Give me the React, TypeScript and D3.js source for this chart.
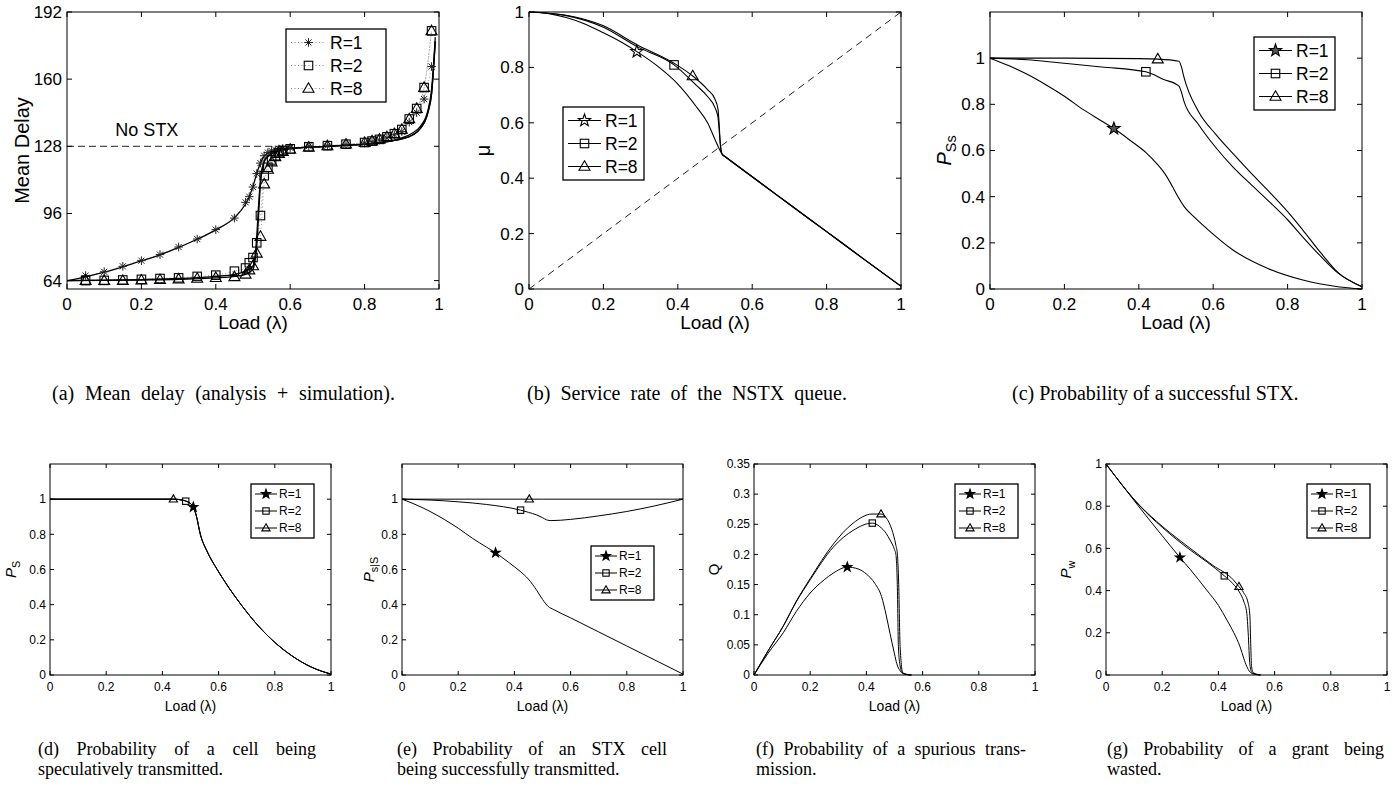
import React, { useLayoutEffect, useRef, useState } from 'react';
import * as d3 from 'd3';

type Pt = [number, number];
type Shape = 'star' | 'square' | 'tri' | 'ast';

// ---- shared tick values / names
const loadTicks = [0, 0.2, 0.4, 0.6, 0.8, 1];
const delayTicks = [64, 96, 128, 160, 192];
const unitTicks = [0, 0.2, 0.4, 0.6, 0.8, 1];
const qTicks = [0, 0.05, 0.1, 0.15, 0.2, 0.25, 0.3, 0.35];
const rLabels = ['R=1', 'R=2', 'R=8'];
const noStxDelay = 128;

// ---- (a) mean delay, analysis
const delayR1: Pt[] = [[0, 64], [0.05, 65.8], [0.1, 68], [0.15, 70.6], [0.2, 73.4], [0.25, 76.3], [0.3, 79.8], [0.35, 83.7], [0.4, 88.2], [0.45, 94], [0.48, 100.5], [0.49, 104], [0.5, 109], [0.51, 115], [0.52, 120], [0.53, 123.3], [0.55, 125.5], [0.6, 127], [0.7, 128], [0.8, 129], [0.85, 130], [0.9, 132], [0.93, 134.5], [0.95, 137.5], [0.97, 145], [0.98, 155], [0.99, 180]];
const delayR2: Pt[] = [[0, 64], [0.1, 64.2], [0.2, 64.5], [0.3, 65], [0.4, 66], [0.45, 67], [0.48, 68.5], [0.5, 71], [0.505, 75], [0.51, 85], [0.515, 100], [0.52, 112], [0.525, 118], [0.53, 121], [0.54, 123.5], [0.56, 125.5], [0.6, 127], [0.7, 128], [0.8, 129], [0.85, 130], [0.9, 131.5], [0.93, 133.5], [0.95, 136.5], [0.97, 144], [0.98, 153], [0.99, 178]];
const delayR8: Pt[] = [[0, 64], [0.1, 64.1], [0.2, 64.3], [0.3, 64.6], [0.4, 65.3], [0.45, 66], [0.48, 67], [0.5, 69.5], [0.505, 73], [0.51, 80], [0.515, 95], [0.52, 110], [0.525, 117], [0.53, 120.5], [0.54, 123], [0.56, 125.3], [0.6, 126.8], [0.7, 128], [0.8, 129], [0.85, 130], [0.9, 131.5], [0.93, 133.5], [0.95, 136.5], [0.97, 144], [0.98, 153], [0.99, 178]];

// ---- (a) mean delay, simulation
const simLoad = [0.05, 0.1, 0.15, 0.2, 0.25, 0.3, 0.35, 0.4, 0.45, 0.48, 0.49, 0.5, 0.51, 0.52, 0.53, 0.54, 0.55, 0.56, 0.57, 0.58, 0.6, 0.65, 0.7, 0.75, 0.8, 0.82, 0.84, 0.86, 0.88, 0.9, 0.92, 0.94, 0.96, 0.98];
const simR1 = [66.4, 68.2, 70.8, 73.5, 76.4, 80, 83.8, 88.3, 93.8, 101.3, 104, 108.6, 115, 120, 123.5, 125, 125.8, 126.3, 126.7, 127, 127.3, 128, 128.2, 128.8, 129.6, 130.2, 131, 132, 133.5, 135, 139.5, 144, 150.5, 166];
const simR2 = [64, 64.1, 64.3, 64.6, 65, 65.3, 66, 66.6, 68.5, 70, 72.5, 75, 82, 95, 114, 118, 121.5, 123.5, 125, 126, 126.8, 127.8, 128.3, 129, 129.8, 130.5, 131.3, 132.5, 134, 136, 141, 146, 156, 183];
const simR8 = [64, 64, 64, 64.2, 64.4, 64.7, 65, 65.4, 65.8, 67, 69, 71, 77, 85, 110, 117, 120.5, 123, 124.5, 125.5, 126.5, 127.5, 128.2, 129, 129.8, 130.5, 131.3, 132.5, 134, 136, 141, 146, 156, 183];

// ---- (b) service rate mu
const muR1: Pt[] = [[0, 1], [0.05, 0.995], [0.1, 0.98], [0.15, 0.957], [0.2, 0.925], [0.25, 0.89], [0.29, 0.857], [0.35, 0.8], [0.4, 0.74], [0.45, 0.658], [0.48, 0.6], [0.5, 0.54], [0.51, 0.51], [0.52, 0.485], [0.525, 0.48], [0.6, 0.405], [0.7, 0.306], [0.8, 0.207], [0.9, 0.108], [1, 0.01]];
const muR2: Pt[] = [[0, 1], [0.1, 0.987], [0.2, 0.945], [0.29, 0.875], [0.39, 0.809], [0.45, 0.735], [0.48, 0.695], [0.5, 0.655], [0.508, 0.62], [0.512, 0.56], [0.516, 0.5], [0.52, 0.485], [0.525, 0.48], [0.6, 0.405], [0.7, 0.306], [0.8, 0.207], [0.9, 0.108], [1, 0.01]];
const muR8: Pt[] = [[0, 1], [0.1, 0.988], [0.2, 0.95], [0.29, 0.882], [0.39, 0.815], [0.44, 0.769], [0.48, 0.72], [0.5, 0.685], [0.508, 0.65], [0.511, 0.6], [0.514, 0.53], [0.52, 0.485], [0.525, 0.48], [0.6, 0.405], [0.7, 0.306], [0.8, 0.207], [0.9, 0.108], [1, 0.01]];
const muMarks = [0.29, 0.39, 0.44];

// ---- (c) P_Ss
const pssR1: Pt[] = [[0, 1], [0.05, 0.968], [0.1, 0.93], [0.15, 0.885], [0.2, 0.835], [0.25, 0.778], [0.3, 0.728], [0.333, 0.695], [0.38, 0.64], [0.42, 0.59], [0.45, 0.54], [0.47, 0.5], [0.49, 0.445], [0.5, 0.415], [0.523, 0.355], [0.55, 0.31], [0.588, 0.254], [0.654, 0.168], [0.747, 0.089], [0.841, 0.039], [0.935, 0.01], [1, 0]];
const pssR2: Pt[] = [[0, 1], [0.1, 0.993], [0.185, 0.98], [0.3, 0.962], [0.419, 0.941], [0.467, 0.908], [0.508, 0.879], [0.515, 0.85], [0.521, 0.815], [0.56, 0.714], [0.607, 0.613], [0.654, 0.527], [0.7, 0.455], [0.747, 0.384], [0.8, 0.3], [0.841, 0.225], [0.89, 0.14], [0.935, 0.07], [1, 0.01]];
const pssR8: Pt[] = [[0, 1], [0.2, 1], [0.4, 0.998], [0.451, 0.996], [0.508, 0.987], [0.515, 0.96], [0.521, 0.92], [0.56, 0.77], [0.607, 0.67], [0.654, 0.585], [0.7, 0.505], [0.747, 0.427], [0.8, 0.335], [0.841, 0.255], [0.89, 0.155], [0.935, 0.072], [1, 0.01]];
const pssMarks = [0.333, 0.419, 0.451];

// ---- (d) P_S (all R overlap)
const psR1: Pt[] = [[0, 1], [0.2, 1], [0.4, 1], [0.44, 1], [0.47, 0.995], [0.49, 0.985], [0.5, 0.975], [0.51, 0.955], [0.52, 0.91], [0.535, 0.8], [0.56, 0.7], [0.595, 0.6], [0.635, 0.5], [0.68, 0.4], [0.73, 0.3], [0.79, 0.2], [0.86, 0.11], [0.93, 0.045], [1, 0.005]];
const psR2: Pt[] = psR1;
const psR8: Pt[] = psR1;
const psMarks = [0.51, 0.483, 0.439];

// ---- (e) P_s|S
const pssCondR1: Pt[] = [[0, 1], [0.05, 0.968], [0.1, 0.93], [0.15, 0.885], [0.2, 0.835], [0.25, 0.778], [0.3, 0.728], [0.333, 0.695], [0.38, 0.64], [0.42, 0.59], [0.45, 0.545], [0.48, 0.48], [0.5, 0.43], [0.52, 0.39], [0.54, 0.372], [0.6, 0.325], [0.7, 0.245], [0.8, 0.165], [0.9, 0.085], [1, 0.005]];
const pssCondR2: Pt[] = [[0, 1], [0.1, 0.995], [0.2, 0.985], [0.3, 0.97], [0.422, 0.9375], [0.45, 0.925], [0.48, 0.91], [0.5, 0.895], [0.515, 0.882], [0.53, 0.878], [0.6, 0.885], [0.7, 0.905], [0.8, 0.93], [0.9, 0.962], [1, 1]];
const pssCondR8: Pt[] = [[0, 1], [0.5, 1], [1, 1]];
const pssCondMarks = [0.333, 0.422, 0.453];

// ---- (f) Q
const qR1: Pt[] = [[0, 0], [0.05, 0.036], [0.104, 0.07], [0.15, 0.105], [0.2, 0.136], [0.25, 0.158], [0.282, 0.169], [0.332, 0.179], [0.37, 0.176], [0.401, 0.167], [0.43, 0.152], [0.454, 0.13], [0.47, 0.1], [0.484, 0.069], [0.5, 0.035], [0.508, 0.019], [0.52, 0.007], [0.531, 0.002], [0.56, 0]];
const qR2: Pt[] = [[0, 0], [0.05, 0.04], [0.104, 0.081], [0.15, 0.121], [0.2, 0.158], [0.282, 0.212], [0.353, 0.24], [0.421, 0.252], [0.448, 0.246], [0.47, 0.235], [0.484, 0.224], [0.5, 0.208], [0.505, 0.2], [0.51, 0.15], [0.514, 0.047], [0.52, 0.015], [0.526, 0.006], [0.54, 0.001], [0.56, 0]];
const qR8: Pt[] = [[0, 0], [0.05, 0.04], [0.104, 0.081], [0.15, 0.122], [0.2, 0.16], [0.282, 0.217], [0.353, 0.252], [0.42, 0.267], [0.452, 0.267], [0.47, 0.261], [0.49, 0.242], [0.505, 0.215], [0.51, 0.202], [0.515, 0.15], [0.52, 0.047], [0.53, 0.003], [0.56, 0]];
const qMarks = [0.332, 0.421, 0.452];

// ---- (g) P_w
const pwR1: Pt[] = [[0, 1], [0.121, 0.791], [0.2, 0.66], [0.263, 0.557], [0.3, 0.5], [0.358, 0.403], [0.4, 0.33], [0.43, 0.261], [0.455, 0.2], [0.477, 0.134], [0.49, 0.08], [0.501, 0.04], [0.512, 0.015], [0.524, 0.005], [0.55, 0]];
const pwR2: Pt[] = [[0, 1], [0.121, 0.8], [0.2, 0.7], [0.299, 0.593], [0.36, 0.535], [0.421, 0.47], [0.45, 0.435], [0.477, 0.388], [0.49, 0.35], [0.501, 0.293], [0.506, 0.2], [0.512, 0.05], [0.52, 0.01], [0.55, 0]];
const pwR8: Pt[] = [[0, 1], [0.121, 0.802], [0.2, 0.705], [0.299, 0.601], [0.38, 0.52], [0.453, 0.451], [0.473, 0.419], [0.49, 0.39], [0.506, 0.34], [0.512, 0.28], [0.515, 0.15], [0.518, 0.04], [0.525, 0.01], [0.55, 0]];
const pwMarks = [0.263, 0.421, 0.473];

const SANS = "'Liberation Sans', Arial, Helvetica, sans-serif";
const SERIF = "'Liberation Serif', 'Times New Roman', serif";
const shapes: Shape[] = ['star', 'square', 'tri'];

function interp(pts: Pt[], x: number) {
  for (let i = 1; i < pts.length; i++) {
    if (x <= pts[i][0]) {
      const [x0, y0] = pts[i - 1];
      const [x1, y1] = pts[i];
      return y0 + ((y1 - y0) * (x - x0)) / (x1 - x0 || 1);
    }
  }
  return pts[pts.length - 1][1];
}

function fmt(v: number) {
  return String(+v.toFixed(2));
}

function Marker({ shape, x, y, big, fill }: { shape: Shape; x: number; y: number; big: boolean; fill?: string }) {
  const k = big ? 1 : 0.75;
  if (shape === 'star') {
    const R = 6.5 * k;
    const p = d3.range(10).map((i) => {
      const a = -Math.PI / 2 + (i * Math.PI) / 5;
      const r = i % 2 ? R * 0.4 : R;
      return [x + r * Math.cos(a), y + r * Math.sin(a)];
    });
    return <polygon points={p.map((d) => d.join(',')).join(' ')} fill={fill || 'none'} stroke="#000" strokeWidth={1.1} />;
  }
  if (shape === 'square') {
    const s = 8.5 * k;
    return <rect x={x - s / 2} y={y - s / 2} width={s} height={s} fill="none" stroke="#000" strokeWidth={1.1} />;
  }
  if (shape === 'tri') {
    const w = 11 * k;
    const h = 9.5 * k;
    return <path d={`M${x},${y - h * 0.6}L${x + w / 2},${y + h * 0.4}L${x - w / 2},${y + h * 0.4}Z`} fill="none" stroke="#000" strokeWidth={1.1} />;
  }
  const r = 4.3;
  return (
    <g stroke="#222" strokeWidth={1}>
      {[0, 45, 90, 135].map((a) => {
        const c = Math.cos((a * Math.PI) / 180) * r;
        const s = Math.sin((a * Math.PI) / 180) * r;
        return <line key={a} x1={x - c} y1={y - s} x2={x + c} y2={y + s} />;
      })}
    </g>
  );
}

type Scale = d3.ScaleLinear<number, number>;

type AxesProps = {
  x: number; y: number; w: number; h: number;
  yDomain: [number, number]; yTicks: number[]; big: boolean;
  ylabel: React.ReactNode; ylabelDx: number;
  children: (sx: Scale, sy: Scale) => React.ReactNode;
};

function Axes({ x, y, w, h, yDomain, yTicks, big, ylabel, ylabelDx, children }: AxesProps) {
  const sx = d3.scaleLinear().domain([0, 1]).range([x, x + w]);
  const sy = d3.scaleLinear().domain(yDomain).range([y + h, y]);
  const tl = big ? 5 : 4;
  const tf = big ? 17 : 12;
  const lf = big ? 19 : 14;
  return (
    <g fontFamily={SANS}>
      {children(sx, sy)}
      <rect x={x} y={y} width={w} height={h} fill="none" stroke="#000" strokeWidth={1} />
      {loadTicks.map((t) => (
        <g key={'x' + t}>
          <line x1={sx(t)} x2={sx(t)} y1={y + h} y2={y + h - tl} stroke="#000" />
          <line x1={sx(t)} x2={sx(t)} y1={y} y2={y + tl} stroke="#000" />
          <text x={sx(t)} y={y + h + (big ? 21 : 16)} fontSize={tf} textAnchor="middle">{fmt(t)}</text>
        </g>
      ))}
      {yTicks.map((t) => (
        <g key={'y' + t}>
          <line x1={x} x2={x + tl} y1={sy(t)} y2={sy(t)} stroke="#000" />
          <line x1={x + w} x2={x + w - tl} y1={sy(t)} y2={sy(t)} stroke="#000" />
          <text x={x - (big ? 5 : 4)} y={sy(t)} dy="0.35em" fontSize={tf} textAnchor="end">{fmt(t)}</text>
        </g>
      ))}
      <text x={x + w / 2} y={y + h + (big ? 40 : 36)} fontSize={lf} textAnchor="middle">Load (λ)</text>
      <text transform={`translate(${x - ylabelDx},${y + h / 2}) rotate(-90)`} dy="0.35em" fontSize={big ? 20 : 15} textAnchor="middle">{ylabel}</text>
    </g>
  );
}

function Legend({ x, y, w, big, dotted, legendShapes, fills }: { x: number; y: number; w: number; big: boolean; dotted?: boolean; legendShapes: Shape[]; fills: (string | undefined)[] }) {
  const step = big ? 23 : 17;
  const first = big ? 13.5 : 10;
  const h = first * 2 + step * 2;
  const l0 = big ? 5 : 4;
  const l1 = dotted ? 40 : big ? 38 : 26;
  const tx = dotted ? 44 : big ? 42 : 28;
  return (
    <g fontFamily={SANS}>
      <rect x={x} y={y} width={w} height={h} fill="#fff" stroke="#000" strokeWidth={1.3} />
      {rLabels.map((lab, i) => {
        const yy = y + first + i * step;
        return (
          <g key={lab}>
            <line x1={x + l0} x2={x + l1} y1={yy} y2={yy} stroke={dotted ? '#888' : '#000'} strokeWidth={1} strokeDasharray={dotted ? '1 2.5' : undefined} />
            <Marker shape={legendShapes[i]} x={x + (l0 + l1) / 2} y={yy} big={big} fill={fills[i]} />
            <text x={x + tx} y={yy} dy="0.36em" fontSize={big ? 17.5 : 12}>{lab}</text>
          </g>
        );
      })}
    </g>
  );
}

type PanelCfg = {
  x: number; series: Pt[][]; marks: number[]; yDomain: [number, number]; yTicks: number[];
  ylabel: React.ReactNode; legend: [number, number]; ylabelDx: number;
  extra?: (sx: Scale, sy: Scale) => React.ReactNode;
};

const TOPY = 12, TOPH = 277, TOPW = 372;
const BOTY = 464, BOTH = 211, BOTW = 281;

function CurvePanel({ cfg, big, y, h, w, starFill }: { cfg: PanelCfg; big: boolean; y: number; h: number; w: number; starFill?: string }) {
  return (
    <g>
      <Axes x={cfg.x} y={y} w={w} h={h} yDomain={cfg.yDomain} yTicks={cfg.yTicks} big={big} ylabel={cfg.ylabel} ylabelDx={cfg.ylabelDx}>
        {(sx, sy) => {
          const line = d3.line<Pt>().x((d) => sx(d[0])).y((d) => sy(d[1])).curve(d3.curveMonotoneX);
          return (
            <g>
              {cfg.extra ? cfg.extra(sx, sy) : null}
              {cfg.series.map((s, i) => (
                <path key={i} d={line(s) || ''} fill="none" stroke="#000" strokeWidth={big ? 1.1 : 1} />
              ))}
              {cfg.series.map((s, i) => (
                <Marker key={'m' + i} shape={shapes[i]} x={sx(cfg.marks[i])} y={sy(interp(s, cfg.marks[i]))} big={big} fill={i === 0 ? starFill : undefined} />
              ))}
            </g>
          );
        }}
      </Axes>
      <Legend x={cfg.x + cfg.legend[0]} y={y + cfg.legend[1]} w={big ? 81 : 63} big={big} legendShapes={shapes} fills={[starFill, undefined, undefined]} />
    </g>
  );
}

// text spread to a given width by widening the gaps between words
function JustText({ x, y, width, text, size }: { x: number; y: number; width: number; text: string; size: number }) {
  const ref = useRef<SVGTextElement>(null);
  const [ws, setWs] = useState(0);
  useLayoutEffect(() => {
    const el = ref.current;
    if (!el) return;
    el.style.wordSpacing = '0px';
    const natural = el.getComputedTextLength();
    const gaps = (text.match(/ /g) || []).length || 1;
    setWs(Math.max(0, (width - natural) / gaps));
  }, [text, width, size]);
  return (
    <text ref={ref} x={x} y={y} fontSize={size} style={{ wordSpacing: `${ws}px` }}>{text}</text>
  );
}

const sub = (main: string, s: string) => (
  <>
    <tspan fontStyle="italic">{main}</tspan>
    <tspan fontSize="0.72em" dy="0.35em">{s}</tspan>
  </>
);

export default function App() {
  const ax = 67;
  const simSeries = [simR1, simR2, simR8];
  const simShapes: Shape[] = ['ast', 'square', 'tri'];

  const bCfg: PanelCfg = {
    x: 529, series: [muR1, muR2, muR8], marks: muMarks, yDomain: [0, 1], yTicks: unitTicks, ylabel: 'μ', legend: [34, 95], ylabelDx: 46,
    extra: (sx, sy) => <line x1={sx(0)} y1={sy(0)} x2={sx(1)} y2={sy(1)} stroke="#222" strokeDasharray="7 5" />,
  };
  const cCfg: PanelCfg = { x: 990, series: [pssR1, pssR2, pssR8], marks: pssMarks, yDomain: [0, 1.2], yTicks: unitTicks, ylabel: sub('P', 'Ss'), legend: [264, 25], ylabelDx: 46 };
  const dCfg: PanelCfg = { x: 50, series: [psR1, psR2, psR8], marks: psMarks, yDomain: [0, 1.2], yTicks: unitTicks, ylabel: sub('P', 'S'), legend: [201, 20], ylabelDx: 39 };
  const eCfg: PanelCfg = { x: 402, series: [pssCondR1, pssCondR2, pssCondR8], marks: pssCondMarks, yDomain: [0, 1.2], yTicks: unitTicks, ylabel: sub('P', 's|S'), legend: [189, 82], ylabelDx: 33 };
  const fCfg: PanelCfg = { x: 754, series: [qR1, qR2, qR8], marks: qMarks, yDomain: [0, 0.35], yTicks: qTicks, ylabel: 'Q', legend: [201, 20], ylabelDx: 40 };
  const gCfg: PanelCfg = { x: 1106, series: [pwR1, pwR2, pwR8], marks: pwMarks, yDomain: [0, 1], yTicks: unitTicks, ylabel: sub('P', 'w'), legend: [201, 20], ylabelDx: 40 };

  const topCaps = [
    { x: 52, text: '(a) Mean delay (analysis + simulation).', len: 343 },
    { x: 527, text: '(b) Service rate of the NSTX queue.', len: 320 },
    { x: 1012, text: '(c) Probability of a successful STX.', len: 281 },
  ];
  const bottomCaps = [
    { x: 38, l1: '(d) Probability of a cell being', l2: 'speculatively transmitted.', len: 278 },
    { x: 397, l1: '(e) Probability of an STX cell', l2: 'being successfully transmitted.', len: 270 },
    { x: 756, l1: '(f) Probability of a spurious trans-', l2: 'mission.', len: 270 },
    { x: 1107, l1: '(g) Probability of a grant being', l2: 'wasted.', len: 277 },
  ];

  return (
    <svg width={1396} height={799} style={{ position: 'absolute', left: 0, top: 0, background: '#fff' }}>
      <rect width={1396} height={799} fill="#fff" />
      {/* (a) mean delay */}
      <Axes x={ax} y={TOPY} w={TOPW} h={TOPH} yDomain={[60, 192]} yTicks={delayTicks} big ylabel="Mean Delay" ylabelDx={45}>
        {(sx, sy) => {
          const line = d3.line<Pt>().x((d) => sx(d[0])).y((d) => sy(d[1])).curve(d3.curveMonotoneX);
          return (
            <g>
              <line x1={sx(0)} x2={sx(0.6)} y1={sy(noStxDelay)} y2={sy(noStxDelay)} stroke="#222" strokeDasharray="7 4" />
              <text x={sx(0.13)} y={sy(133)} fontSize={18}>No STX</text>
              {simSeries.map((s, i) => (
                <path key={'s' + i} d={line(s.map((v, j) => [simLoad[j], v] as Pt)) || ''} fill="none" stroke="#999" strokeDasharray="1 2.5" />
              ))}
              {[delayR1, delayR2, delayR8].map((s, i) => (
                <path key={'a' + i} d={line(s) || ''} fill="none" stroke="#000" strokeWidth={1.3} />
              ))}
              {simSeries.map((s, i) => (
                <g key={'m' + i}>
                  {s.map((v, j) => (
                    <Marker key={j} shape={simShapes[i]} x={sx(simLoad[j])} y={sy(v)} big />
                  ))}
                </g>
              ))}
            </g>
          );
        }}
      </Axes>
      <Legend x={286} y={29} w={100} big dotted legendShapes={simShapes} fills={[undefined, undefined, undefined]} />
      {/* (b), (c) */}
      <CurvePanel cfg={bCfg} big y={TOPY} h={TOPH} w={TOPW} />
      <CurvePanel cfg={cCfg} big y={TOPY} h={TOPH} w={TOPW} starFill="#555" />
      {/* bottom row */}
      {[dCfg, eCfg, fCfg, gCfg].map((c, i) => (
        <CurvePanel key={i} cfg={c} big={false} y={BOTY} h={BOTH} w={BOTW} starFill="#000" />
      ))}
      {/* captions */}
      <g fontFamily={SERIF}>
        {topCaps.map((c) => (
          <JustText key={c.x} x={c.x} y={400} width={c.len} text={c.text} size={20} />
        ))}
        {bottomCaps.map((c) => (
          <g key={c.x}>
            <JustText x={c.x} y={755} width={c.len} text={c.l1} size={18} />
            <text x={c.x} y={775} fontSize={18}>{c.l2}</text>
          </g>
        ))}
      </g>
    </svg>
  );
}
